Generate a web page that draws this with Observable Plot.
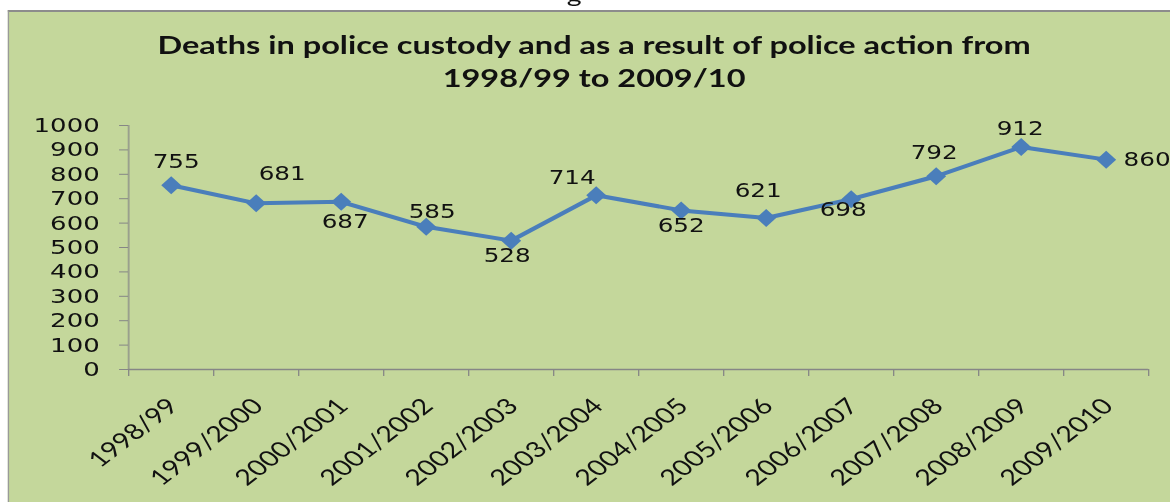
<!DOCTYPE html>
<html>
<head>
<meta charset="utf-8">
<script src="https://cdn.jsdelivr.net/npm/d3@7"></script>
<script src="https://cdn.jsdelivr.net/npm/@observablehq/plot@0.6"></script>
<style>
  html, body { margin: 0; padding: 0; background: #fff; width: 1170px; height: 502px; overflow: hidden; }
  #wrap { position: absolute; left: 0; top: 0; width: 900px; height: 502px; transform: scaleX(1.3); transform-origin: 0 0; }
  #cut { position: absolute; left: 436px; top: -17.5px; font: 22px Lato, sans-serif; line-height: 22px; color: #111; white-space: nowrap; }
  #box { position: absolute; left: 6.2px; top: 10px; right: 0; bottom: 0; background: #c4d79b; border-top: 2px solid #8c8c8c; border-left: 1.6px solid #9a9a9a; }
  #title { position: absolute; left: 7px; width: 900px; top: 27.5px; text-align: center; font: bold 25px Lato, sans-serif; line-height: 33px; color: #111; }
  #chart { position: absolute; left: 0; top: 100px; }
</style>
</head>
<body>
<div id="wrap">
  <div id="cut">g</div>
  <div id="box"></div>
  <div id="title">Deaths in police custody and as a result of police action from<br>1998/99 to 2009/10</div>
  <div id="chart"></div>
</div>
<script>
const STRETCH = 1.3;

const periods = ["1998/99", "1999/2000", "2000/2001", "2001/2002", "2002/2003", "2003/2004",
                 "2004/2005", "2005/2006", "2006/2007", "2007/2008", "2008/2009", "2009/2010"];
const deaths = [755, 681, 687, 585, 528, 714, 652, 621, 698, 792, 912, 860];
const yTicks = [0, 100, 200, 300, 400, 500, 600, 700, 800, 900, 1000];

// label placement relative to each point (picture pixels)
const labelOffsets = [[5, -23], [26, -29], [4, 20], [6, -15], [-4, 15], [-24, -17],
                      [0, 15], [-8, -27], [-8, 11], [-2, -23], [-1, -18], [41, 0]];

const data = periods.map((p, i) => ({ period: p, idx: i + 0.5, deaths: deaths[i] }));
const boundaries = d3.range(periods.length + 1);

const lineColor = "#4a7ebb";
const axisColor = "#868686";
const textColor = "#111";

const diamond = {
  draw(ctx, size) {
    const h = Math.sqrt(size / Math.PI);
    const w = h * 0.85;
    ctx.moveTo(0, -h); ctx.lineTo(w, 0); ctx.lineTo(0, h); ctx.lineTo(-w, 0); ctx.closePath();
  }
};

const labelMarks = data.map((d, i) => Plot.text([d], {
  x: "idx", y: "deaths", text: v => String(v.deaths),
  dx: labelOffsets[i][0] / STRETCH, dy: labelOffsets[i][1],
  fontSize: 19, fontFamily: "DejaVu Sans", fill: textColor
}));

const chart = Plot.plot({
  width: 900,
  height: 402,
  marginLeft: 98.5,
  marginRight: 16.9,
  marginTop: 25,
  marginBottom: 133,
  style: { background: "transparent", overflow: "visible" },
  x: { domain: [0, periods.length], axis: null },
  y: { domain: [0, 1000], axis: null },
  marks: [
    Plot.axisY({ ticks: yTicks, tickFormat: d => String(d), tickSize: 6.9, tickPadding: 15.4, fontSize: 20,
                 fontFamily: "DejaVu Sans", stroke: axisColor, fill: textColor, label: null }),
    Plot.axisX({ ticks: boundaries, tickSize: 7, tickFormat: () => "", stroke: axisColor, label: null }),
    Plot.ruleY([0], { stroke: axisColor, strokeWidth: 1.3 }),
    Plot.ruleX([0], { stroke: axisColor }),
    Plot.text(data, { x: "idx", frameAnchor: "bottom", text: "period", rotate: -45, textAnchor: "end",
                      lineAnchor: "middle", dx: 2 / STRETCH, dy: 33, fontSize: 22, fontFamily: "Lato", fill: textColor }),
    Plot.line(data, { x: "idx", y: "deaths", stroke: lineColor, strokeWidth: 4 }),
    Plot.dot(data, { x: "idx", y: "deaths", r: 9, symbol: diamond, fill: lineColor, stroke: "none" }),
    ...labelMarks
  ]
});
document.getElementById("chart").appendChild(chart);
</script>
</body>
</html>
